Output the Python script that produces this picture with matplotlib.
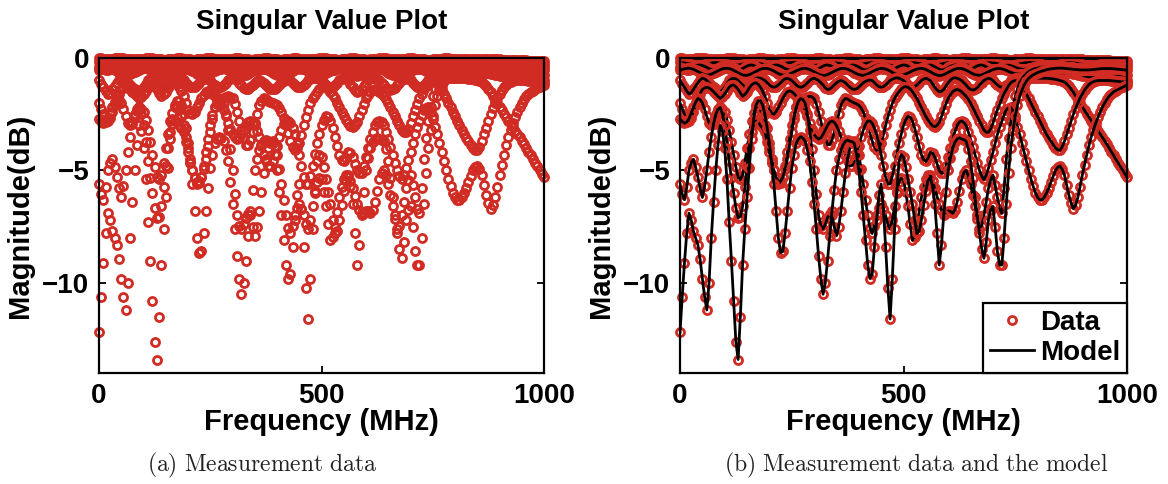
import numpy as np
import matplotlib
matplotlib.use("Agg")
import matplotlib.pyplot as plt
from matplotlib.lines import Line2D

plt.rcParams["font.family"] = ["Liberation Sans", "DejaVu Sans"]
plt.rcParams["font.weight"] = "bold"
plt.rcParams["mathtext.fontset"] = "cm"

# frequency grid (MHz), 5 MHz steps
freq = np.arange(0, 1001, 5)

# singular values (dB), one list per trace, 100 MHz per row
sv_top = [
    -0.02, -0.02, -0.03, -0.04, -0.04, -0.04, -0.03, -0.02, -0.02, -0.02, -0.02, -0.02, -0.03, -0.04, -0.05, -0.06, -0.06, -0.06, -0.05, -0.04,
    -0.03, -0.02, -0.02, -0.02, -0.02, -0.03, -0.04, -0.05, -0.06, -0.07, -0.07, -0.06, -0.05, -0.04, -0.03, -0.02, -0.02, -0.02, -0.03, -0.04,
    -0.05, -0.06, -0.07, -0.07, -0.06, -0.05, -0.04, -0.03, -0.02, -0.02, -0.02, -0.02, -0.03, -0.04, -0.05, -0.06, -0.06, -0.06, -0.05, -0.04,
    -0.03, -0.02, -0.02, -0.02, -0.03, -0.04, -0.05, -0.06, -0.07, -0.07, -0.06, -0.05, -0.04, -0.03, -0.02, -0.02, -0.02, -0.03, -0.04, -0.05,
    -0.06, -0.07, -0.07, -0.06, -0.05, -0.04, -0.03, -0.02, -0.02, -0.02, -0.03, -0.04, -0.05, -0.06, -0.06, -0.06, -0.05, -0.04, -0.03, -0.02,
    -0.02, -0.02, -0.02, -0.03, -0.04, -0.05, -0.06, -0.07, -0.07, -0.06, -0.05, -0.04, -0.03, -0.02, -0.02, -0.02, -0.03, -0.04, -0.05, -0.06,
    -0.07, -0.07, -0.06, -0.05, -0.04, -0.03, -0.02, -0.02, -0.02, -0.02, -0.03, -0.04, -0.05, -0.06, -0.06, -0.06, -0.05, -0.04, -0.03, -0.02,
    -0.02, -0.02, -0.03, -0.03, -0.04, -0.05, -0.06, -0.07, -0.07, -0.07, -0.06, -0.05, -0.04, -0.03, -0.03, -0.02, -0.02, -0.02, -0.03, -0.04,
    -0.04, -0.05, -0.05, -0.06, -0.06, -0.06, -0.06, -0.05, -0.05, -0.04, -0.04, -0.03, -0.03, -0.03, -0.03, -0.04, -0.04, -0.05, -0.05, -0.06,
    -0.06, -0.07, -0.07, -0.08, -0.08, -0.08, -0.08, -0.09, -0.09, -0.10, -0.10, -0.11, -0.11, -0.12, -0.12, -0.13, -0.13, -0.14, -0.14, -0.15,
    -0.15]

sv_second = [
    -0.20, -0.21, -0.22, -0.24, -0.26, -0.28, -0.30, -0.31, -0.32, -0.32, -0.30, -0.28, -0.26, -0.24, -0.22, -0.21, -0.20, -0.21, -0.22, -0.24,
    -0.26, -0.28, -0.30, -0.32, -0.33, -0.32, -0.31, -0.29, -0.27, -0.25, -0.23, -0.22, -0.21, -0.21, -0.22, -0.23, -0.25, -0.27, -0.29, -0.31,
    -0.32, -0.33, -0.33, -0.32, -0.30, -0.28, -0.26, -0.24, -0.22, -0.21, -0.20, -0.20, -0.21, -0.22, -0.24, -0.26, -0.28, -0.30, -0.31, -0.32,
    -0.33, -0.32, -0.31, -0.29, -0.27, -0.25, -0.23, -0.22, -0.21, -0.21, -0.22, -0.23, -0.25, -0.27, -0.29, -0.31, -0.32, -0.33, -0.33, -0.32,
    -0.30, -0.28, -0.26, -0.24, -0.22, -0.21, -0.20, -0.20, -0.21, -0.23, -0.25, -0.27, -0.29, -0.31, -0.32, -0.33, -0.33, -0.32, -0.31, -0.29,
    -0.27, -0.25, -0.23, -0.22, -0.21, -0.21, -0.22, -0.24, -0.26, -0.28, -0.30, -0.32, -0.33, -0.33, -0.32, -0.30, -0.28, -0.26, -0.24, -0.22,
    -0.21, -0.20, -0.21, -0.22, -0.24, -0.26, -0.28, -0.30, -0.31, -0.32, -0.33, -0.32, -0.31, -0.29, -0.27, -0.25, -0.23, -0.22, -0.21, -0.21,
    -0.22, -0.23, -0.25, -0.27, -0.29, -0.31, -0.32, -0.33, -0.33, -0.32, -0.30, -0.28, -0.26, -0.24, -0.22, -0.21, -0.20, -0.20, -0.21, -0.22,
    -0.24, -0.26, -0.28, -0.30, -0.31, -0.32, -0.33, -0.32, -0.31, -0.29, -0.27, -0.25, -0.23, -0.22, -0.21, -0.21, -0.22, -0.23, -0.25, -0.27,
    -0.28, -0.29, -0.30, -0.31, -0.31, -0.31, -0.30, -0.29, -0.28, -0.27, -0.26, -0.25, -0.25, -0.25, -0.25, -0.25, -0.26, -0.26, -0.27, -0.27,
    -0.28]

sv_band = [
    -0.40, -0.45, -0.50, -0.53, -0.52, -0.48, -0.42, -0.36, -0.32, -0.31, -0.33, -0.37, -0.42, -0.47, -0.51, -0.52, -0.50, -0.45, -0.40, -0.35,
    -0.32, -0.31, -0.34, -0.39, -0.45, -0.50, -0.53, -0.52, -0.47, -0.41, -0.36, -0.32, -0.31, -0.33, -0.38, -0.44, -0.49, -0.52, -0.52, -0.48,
    -0.43, -0.37, -0.33, -0.31, -0.32, -0.36, -0.41, -0.47, -0.51, -0.53, -0.51, -0.46, -0.40, -0.35, -0.32, -0.31, -0.34, -0.39, -0.45, -0.50,
    -0.53, -0.52, -0.48, -0.42, -0.36, -0.32, -0.31, -0.33, -0.37, -0.43, -0.48, -0.52, -0.53, -0.50, -0.45, -0.39, -0.34, -0.31, -0.32, -0.35,
    -0.40, -0.46, -0.51, -0.53, -0.51, -0.47, -0.41, -0.36, -0.32, -0.31, -0.33, -0.38, -0.44, -0.49, -0.52, -0.52, -0.48, -0.42, -0.37, -0.33,
    -0.31, -0.32, -0.36, -0.42, -0.47, -0.51, -0.53, -0.51, -0.46, -0.40, -0.35, -0.32, -0.31, -0.34, -0.39, -0.45, -0.50, -0.53, -0.52, -0.48,
    -0.42, -0.37, -0.33, -0.31, -0.32, -0.36, -0.41, -0.47, -0.51, -0.53, -0.51, -0.46, -0.40, -0.35, -0.32, -0.31, -0.34, -0.39, -0.45, -0.50,
    -0.53, -0.52, -0.48, -0.43, -0.38, -0.34, -0.32, -0.32, -0.34, -0.37, -0.41, -0.45, -0.48, -0.50, -0.50, -0.49, -0.46, -0.43, -0.40, -0.38,
    -0.37, -0.37, -0.38, -0.39, -0.41, -0.43, -0.45, -0.47, -0.50, -0.52, -0.55, -0.57, -0.60, -0.62, -0.65, -0.67, -0.70, -0.72, -0.74, -0.76,
    -0.78, -0.80, -0.82, -0.84, -0.85, -0.87, -0.88, -0.89, -0.90, -0.91, -0.92, -0.93, -0.94, -0.95, -0.95, -0.96, -0.96, -0.97, -0.97, -0.98,
    -0.98]

sv_third = [
    -0.55, -0.51, -0.48, -0.46, -0.45, -0.47, -0.50, -0.55, -0.60, -0.65, -0.70, -0.74, -0.76, -0.75, -0.72, -0.67, -0.62, -0.57, -0.52, -0.48,
    -0.46, -0.46, -0.47, -0.50, -0.55, -0.60, -0.66, -0.71, -0.75, -0.77, -0.77, -0.74, -0.70, -0.65, -0.60, -0.55, -0.50, -0.47, -0.46, -0.47,
    -0.49, -0.53, -0.58, -0.64, -0.69, -0.73, -0.76, -0.76, -0.75, -0.71, -0.67, -0.62, -0.57, -0.53, -0.49, -0.47, -0.46, -0.48, -0.51, -0.56,
    -0.61, -0.67, -0.72, -0.76, -0.78, -0.77, -0.74, -0.69, -0.64, -0.59, -0.54, -0.50, -0.47, -0.46, -0.47, -0.50, -0.54, -0.59, -0.65, -0.70,
    -0.74, -0.76, -0.77, -0.75, -0.71, -0.66, -0.61, -0.56, -0.51, -0.48, -0.46, -0.47, -0.49, -0.53, -0.58, -0.64, -0.69, -0.73, -0.76, -0.76,
    -0.75, -0.71, -0.67, -0.62, -0.57, -0.53, -0.49, -0.47, -0.46, -0.48, -0.51, -0.56, -0.61, -0.67, -0.72, -0.76, -0.78, -0.77, -0.74, -0.69,
    -0.64, -0.59, -0.54, -0.50, -0.47, -0.46, -0.47, -0.50, -0.54, -0.59, -0.65, -0.70, -0.74, -0.76, -0.77, -0.75, -0.71, -0.66, -0.61, -0.56,
    -0.52, -0.49, -0.47, -0.47, -0.48, -0.51, -0.55, -0.60, -0.64, -0.67, -0.70, -0.71, -0.72, -0.71, -0.69, -0.66, -0.63, -0.60, -0.57, -0.55,
    -0.53, -0.52, -0.52, -0.53, -0.54, -0.56, -0.58, -0.60, -0.62, -0.64, -0.65, -0.66, -0.66, -0.66, -0.65, -0.64, -0.62, -0.60, -0.58, -0.56,
    -0.55, -0.54, -0.53, -0.53, -0.53, -0.54, -0.55, -0.56, -0.58, -0.60, -0.62, -0.64, -0.66, -0.68, -0.70, -0.72, -0.73, -0.74, -0.75, -0.76,
    -0.76]

sv_fourth = [
    -1.00, -1.15, -1.30, -1.47, -1.60, -1.55, -1.40, -1.25, -1.10, -0.98, -0.90, -0.93, -1.00, -1.10, -1.20, -1.30, -1.40, -1.47, -1.50, -1.42,
    -1.30, -1.15, -1.00, -0.93, -0.90, -0.93, -1.00, -1.10, -1.20, -1.27, -1.30, -1.22, -1.10, -0.98, -0.90, -0.88, -0.90, -0.95, -1.00, -1.10,
    -1.20, -1.27, -1.30, -1.27, -1.20, -1.10, -1.00, -0.93, -0.90, -0.94, -1.00, -1.10, -1.20, -1.27, -1.30, -1.27, -1.20, -1.10, -1.00, -0.93,
    -0.90, -0.94, -1.00, -1.10, -1.20, -1.32, -1.40, -1.38, -1.30, -1.20, -1.10, -1.04, -1.00, -1.04, -1.10, -1.20, -1.30, -1.37, -1.40, -1.37,
    -1.30, -1.20, -1.10, -1.04, -1.00, -0.98, -1.00, -1.10, -1.20, -1.27, -1.30, -1.27, -1.20, -1.10, -1.00, -0.94, -0.90, -0.88, -0.90, -0.94,
    -1.00, -1.10, -1.20, -1.27, -1.30, -1.27, -1.20, -1.10, -1.00, -0.94, -0.90, -0.94, -1.00, -1.15, -1.30, -1.42, -1.50, -1.48, -1.40, -1.25,
    -1.10, -0.98, -0.90, -0.88, -0.90, -0.94, -1.00, -1.10, -1.20, -1.32, -1.40, -1.42, -1.40, -1.32, -1.20, -1.10, -1.00, -0.94, -0.90, -0.93,
    -1.00, -1.10, -1.20, -1.27, -1.30, -1.27, -1.20, -1.10, -1.00, -0.94, -0.90, -0.89, -0.88, -0.88, -0.88, -0.88, -0.89, -0.89, -0.90, -0.90,
    -0.90, -0.90, -0.90, -0.90, -0.90, -0.91, -0.92, -0.93, -0.95, -0.97, -1.00, -1.03, -1.07, -1.15, -1.25, -1.38, -1.52, -1.68, -1.85, -2.00,
    -2.17, -2.33, -2.48, -2.63, -2.78, -2.93, -3.08, -3.23, -3.38, -3.53, -3.68, -3.84, -4.00, -4.17, -4.33, -4.50, -4.66, -4.82, -4.98, -5.14,
    -5.30]

sv_upper = [
    -2.00, -2.25, -2.50, -2.70, -2.80, -2.65, -2.40, -2.10, -1.80, -1.58, -1.40, -1.33, -1.30, -1.33, -1.40, -1.50, -1.60, -1.70, -1.80, -1.72,
    -1.60, -1.45, -1.30, -1.22, -1.20, -1.28, -1.40, -1.55, -1.70, -1.62, -1.50, -1.33, -1.20, -1.13, -1.10, -1.17, -1.30, -1.48, -1.70, -2.00,
    -2.30, -2.45, -2.50, -2.38, -2.20, -2.00, -1.80, -1.63, -1.50, -1.46, -1.50, -1.58, -1.70, -1.82, -1.90, -1.87, -1.80, -1.74, -1.70, -1.73,
    -1.80, -2.05, -2.40, -2.80, -3.20, -3.55, -3.85, -3.85, -3.65, -3.30, -2.90, -2.48, -2.10, -1.90, -1.80, -1.82, -1.90, -1.95, -2.00, -2.04,
    -2.10, -2.22, -2.40, -2.68, -3.00, -3.35, -3.70, -3.95, -4.10, -4.02, -3.80, -3.42, -3.00, -2.62, -2.30, -2.02, -1.80, -1.63, -1.50, -1.38,
    -1.30, -1.27, -1.30, -1.38, -1.50, -1.64, -1.80, -2.00, -2.20, -2.40, -2.60, -2.76, -2.90, -3.02, -3.05, -3.00, -2.85, -2.60, -2.30, -2.03,
    -1.80, -1.63, -1.50, -1.43, -1.40, -1.43, -1.50, -1.60, -1.70, -1.84, -2.00, -2.20, -2.40, -2.60, -2.80, -3.00, -3.20, -3.30, -3.30, -3.15,
    -2.90, -2.60, -2.30, -2.05, -1.80, -1.58, -1.40, -1.23, -1.10, -1.03, -1.00, -1.03, -1.10, -1.23, -1.40, -1.60, -1.80, -2.00, -2.20, -2.40,
    -2.60, -2.80, -3.00, -3.20, -3.40, -3.56, -3.70, -3.85, -4.00, -4.08, -4.10, -3.95, -3.70, -3.40, -3.10, -2.80, -2.50, -2.23, -2.00, -1.78,
    -1.60, -1.43, -1.30, -1.18, -1.10, -1.05, -1.02, -1.00, -1.00, -1.00, -1.00, -1.00, -1.00, -1.01, -1.02, -1.03, -1.04, -1.05, -1.06, -1.07,
    -1.08]

sv_middle = [
    -2.70, -2.82, -2.90, -2.85, -2.70, -2.45, -2.20, -1.97, -1.80, -1.85, -2.00, -2.28, -2.60, -2.88, -3.00, -2.85, -2.60, -2.37, -2.20, -2.25,
    -2.40, -2.75, -3.20, -3.75, -4.30, -4.85, -5.30, -5.40, -5.20, -4.65, -4.00, -3.38, -2.80, -2.45, -2.20, -2.18, -2.30, -2.60, -3.00, -3.50,
    -4.00, -4.50, -5.00, -5.35, -5.60, -5.55, -5.30, -4.80, -4.20, -3.58, -3.00, -2.55, -2.20, -2.05, -2.00, -2.10, -2.30, -2.58, -2.90, -3.17,
    -3.40, -3.53, -3.60, -3.55, -3.40, -3.20, -3.00, -2.86, -2.80, -2.86, -3.00, -3.23, -3.50, -3.90, -4.30, -4.60, -4.80, -4.78, -4.60, -4.28,
    -3.90, -3.53, -3.20, -2.95, -2.80, -2.80, -2.90, -3.12, -3.40, -3.82, -4.30, -4.82, -5.30, -5.60, -5.60, -5.25, -4.80, -4.28, -3.80, -3.38,
    -3.00, -2.75, -2.60, -2.62, -2.80, -3.12, -3.50, -3.92, -4.30, -4.52, -4.60, -4.45, -4.20, -4.22, -4.40, -4.70, -5.00, -5.12, -5.10, -4.80,
    -4.40, -4.00, -3.60, -3.27, -3.00, -2.85, -2.80, -2.86, -3.00, -3.28, -3.60, -3.95, -4.30, -4.67, -5.00, -5.25, -5.40, -5.22, -4.90, -4.55,
    -4.20, -3.80, -3.40, -3.08, -2.80, -2.53, -2.30, -2.22, -2.20, -2.40, -2.70, -3.05, -3.40, -3.80, -4.20, -4.60, -5.00, -5.37, -5.70, -5.98,
    -6.20, -6.30, -6.30, -6.18, -6.00, -5.77, -5.50, -5.25, -5.00, -4.85, -4.80, -4.95, -5.20, -5.65, -6.10, -6.45, -6.70, -6.55, -6.20, -5.72,
    -5.20, -4.75, -4.30, -3.88, -3.50, -3.18, -2.90, -2.63, -2.40, -2.18, -2.00, -1.84, -1.70, -1.60, -1.50, -1.45, -1.40, -1.35, -1.30, -1.25,
    -1.20]

sv_low = [
    -5.60, -6.05, -6.30, -5.75, -5.00, -4.65, -4.50, -4.85, -5.30, -5.80, -6.20, -5.70, -5.00, -4.20, -3.50, -2.95, -2.50, -2.28, -2.20, -2.50,
    -3.00, -3.75, -4.60, -5.35, -6.00, -6.65, -7.10, -7.05, -6.60, -5.75, -4.80, -3.98, -3.30, -2.95, -2.80, -2.85, -3.00, -3.13, -3.30, -3.72,
    -4.20, -4.62, -5.00, -5.30, -5.50, -5.48, -5.30, -4.95, -4.50, -3.90, -3.30, -2.70, -2.20, -1.92, -1.80, -1.85, -2.00, -2.50, -3.20, -4.05,
    -5.00, -6.05, -7.00, -7.45, -7.60, -7.40, -7.10, -6.95, -7.00, -7.50, -7.90, -7.50, -6.80, -5.95, -5.10, -4.50, -4.00, -3.78, -3.70, -3.92,
    -4.30, -4.92, -5.60, -6.32, -7.00, -7.55, -7.80, -7.45, -7.00, -6.65, -6.50, -6.70, -7.00, -7.40, -7.60, -7.20, -6.60, -6.00, -5.50, -5.35,
    -5.40, -5.95, -6.60, -7.40, -8.10, -7.95, -7.50, -6.85, -6.20, -5.75, -5.40, -5.22, -5.20, -5.45, -5.80, -6.15, -6.50, -6.75, -6.90, -6.88,
    -6.80, -6.82, -6.90, -6.75, -6.40, -5.90, -5.40, -5.10, -5.00, -5.22, -5.60, -6.10, -6.60, -7.15, -7.60, -7.45, -7.00, -6.40, -5.80, -5.42,
    -5.20, -5.65, -6.20, -6.70, -6.90, -5.80, -4.50, -3.55, -2.80, -2.20, -1.70, -1.37, -1.10, -0.93, -0.80, -0.69, -0.60, -0.55, -0.50, -0.47,
    -0.45, -0.42, -0.40, -0.39, -0.38, -0.37, -0.36, -0.35, -0.35, -0.35, -0.36, -0.37, -0.38, -0.39, -0.40, -0.41, -0.42, -0.43, -0.43, -0.44,
    -0.44, -0.44, -0.44, -0.44, -0.43, -0.43, -0.42, -0.41, -0.40, -0.40, -0.39, -0.38, -0.38, -0.38, -0.38, -0.38, -0.39, -0.39, -0.40, -0.40,
    -0.41]

sv_lowest = [
    -12.20, -10.60, -9.10, -7.80, -6.90, -7.20, -7.70, -8.00, -8.30, -8.95, -9.80, -10.60, -11.20, -10.00, -8.00, -6.40, -5.00, -3.85, -3.00, -3.25,
    -4.00, -5.40, -7.30, -9.00, -10.80, -12.60, -13.40, -11.50, -9.20, -7.60, -6.20, -4.90, -3.60, -2.70, -2.10, -1.90, -1.90, -2.10, -2.50, -3.10,
    -3.80, -4.65, -5.60, -6.80, -8.00, -8.65, -8.60, -7.80, -6.80, -5.80, -4.90, -4.30, -3.80, -3.60, -3.50, -3.55, -3.70, -4.10, -4.60, -5.50,
    -6.50, -7.60, -8.80, -9.80, -10.50, -10.00, -9.00, -7.90, -6.80, -5.85, -5.00, -4.50, -4.10, -3.85, -3.70, -3.65, -3.70, -3.72, -3.80, -4.30,
    -5.00, -5.95, -7.00, -8.10, -9.20, -9.80, -9.60, -8.40, -7.20, -6.10, -5.60, -6.70, -8.40, -10.20, -11.60, -9.80, -7.60, -5.90, -4.60, -4.30,
    -4.40, -4.85, -5.40, -5.95, -6.50, -7.20, -7.80, -7.70, -7.20, -6.55, -5.90, -5.45, -5.30, -5.70, -6.50, -7.80, -9.20, -8.30, -7.00, -5.95,
    -5.00, -4.45, -4.00, -3.75, -3.60, -3.55, -3.60, -3.63, -3.70, -4.05, -4.60, -5.35, -6.20, -7.00, -7.80, -8.50, -8.90, -8.20, -7.20, -6.75,
    -6.60, -7.50, -8.60, -9.20, -9.20, -8.00, -6.50, -5.10, -4.00, -3.20, -2.60, -2.10, -1.70, -1.43, -1.20, -1.03, -0.90, -0.82, -0.75, -0.70,
    -0.65, -0.61, -0.58, -0.55, -0.52, -0.50, -0.48, -0.47, -0.46, -0.45, -0.45, -0.45, -0.46, -0.47, -0.48, -0.49, -0.50, -0.51, -0.52, -0.53,
    -0.53, -0.53, -0.53, -0.53, -0.52, -0.51, -0.50, -0.49, -0.48, -0.47, -0.47, -0.47, -0.47, -0.47, -0.48, -0.49, -0.50, -0.51, -0.52, -0.53,
    -0.54]

traces = [sv_top, sv_second, sv_band, sv_third, sv_fourth,
          sv_upper, sv_middle, sv_low, sv_lowest]

panel_title = "Singular Value Plot"
x_label = "Frequency (MHz)"
y_label = "Magnitude(dB)"
captions = [r"$\mathrm{(a)\ Measurement\ data}$",
            r"$\mathrm{(b)\ Measurement\ data\ and\ the\ model}$"]
legend_labels = ["Data", "Model"]

RED = "#d02c24"
W, H = 1168, 484
fig = plt.figure(figsize=(W / 100, H / 100), dpi=100)
fig.patch.set_facecolor("white")

# axes boxes in pixels: x0, y_bottom, width, height
ax_a = fig.add_axes([99 / W, 111 / H, 445 / W, 315 / H])
ax_b = fig.add_axes([680 / W, 111 / H, 447 / W, 315 / H])

marker_kw = dict(linestyle="none", marker="o", mfc="none", mec=RED,
                 ms=5.8, mew=2.0)

for ax, show_model in ((ax_a, False), (ax_b, True)):
    for sv in traces:
        ax.plot(freq, sv, clip_on=False, **marker_kw)
        if show_model:
            ax.plot(freq, sv, color="black", lw=2.0)

    ax.set_xlim(0, 1000)
    ax.set_ylim(-14, 0)
    ax.set_xticks([0, 500, 1000])
    ax.set_yticks([-10, -5, 0])
    ax.tick_params(direction="in", length=5, width=1.3, top=True, right=True,
                   labelsize=20, pad=7)
    for s in ax.spines.values():
        s.set_linewidth(1.6)
        s.set_color("black")
    ax.set_title(panel_title, fontsize=20, fontweight="bold",
                 y=(373 - 22) / 315, pad=0, va="center")
    ax.set_xlabel(x_label, fontsize=21, fontweight="bold", va="center")
    ax.xaxis.set_label_coords(0.5, (373 - 422) / 315)
    ax.set_ylabel(y_label, fontsize=21, fontweight="bold", va="center")
    ax.yaxis.set_label_coords((20 - 99) / 445, 0.5)

handles = [Line2D([], [], **marker_kw),
           Line2D([], [], color="black", lw=2.0)]
leg = ax_b.legend(handles, legend_labels, loc="lower right",
                  bbox_to_anchor=(1.0, 0.0), borderaxespad=0.0,
                  fancybox=False, framealpha=1.0, edgecolor="black",
                  prop={"size": 20, "weight": "bold"}, handlelength=1.6,
                  handletextpad=0.2, borderpad=0.25, labelspacing=0.15)
leg.get_frame().set_linewidth(1.6)
leg.set_zorder(10)

fig.text(262 / W, 1 - 465 / H, captions[0], fontsize=17, ha="center", va="center",
         color="#222222")
fig.text(916 / W, 1 - 465 / H, captions[1], fontsize=17, ha="center", va="center",
         color="#222222")

fig.savefig("out.png", dpi=100)
